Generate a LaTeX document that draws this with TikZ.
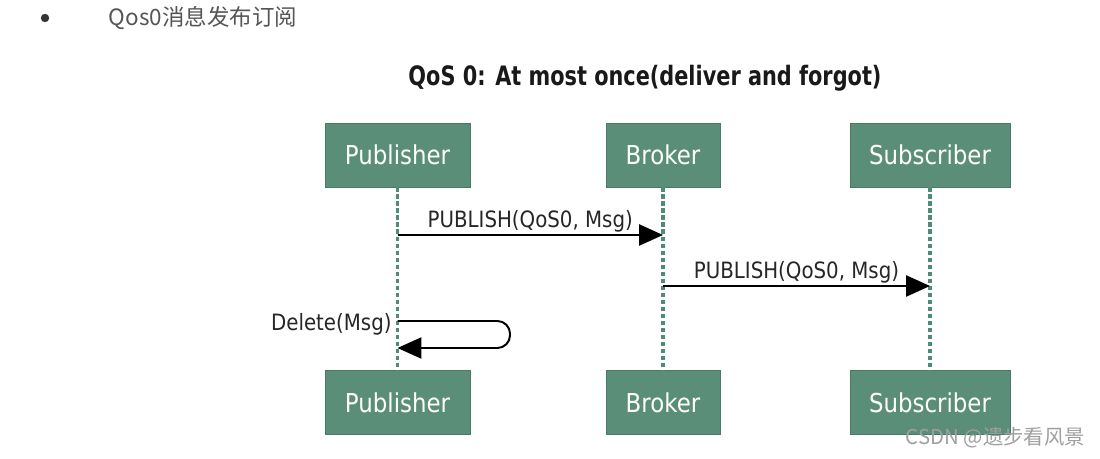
\documentclass[tikz,border=0pt]{standalone}
\usepackage{fontspec}
\setmainfont{DejaVu Sans}
\newfontfamily\diafont[FakeStretch=0.88]{DejaVu Sans}
\newfontfamily\titlefont[FakeStretch=0.78]{DejaVu Sans}
\newfontfamily\cjkfont{Noto Sans CJK SC}
\usetikzlibrary{arrows.meta}
\definecolor{boxgreen}{HTML}{5A8E78}
\definecolor{lifegreen}{HTML}{4F8B79}
\definecolor{headgray}{HTML}{555555}
\tikzset{
  actor/.style={fill=boxgreen, draw=boxgreen!85!black, text=white, minimum height=1.6cm,
    inner sep=0pt, font=\diafont\fontsize{18.5}{20}\selectfont},
  lifeline/.style={lifegreen, line width=2.4pt, dash pattern=on 3pt off 2pt},
  msg/.style={line width=1.4pt, -{Triangle[length=17pt,width=15pt]}},
  msglabel/.style={font=\diafont\fontsize{16}{18}\selectfont, text=black!85, inner sep=1pt}
}
\begin{document}
\begin{tikzpicture}[x=0.025cm,y=-0.025cm]
  \useasboundingbox (0,0) rectangle (1100,459);
  % Header line with bullet
  \fill[headgray!60!black] (45,18) circle (4.2);
  \node[anchor=west, text=headgray, font=\cjkfont\fontsize{16}{18}\selectfont] (head) at (104,18) {Qos0消息发布订阅};
  % Title
  \node[font=\titlefont\bfseries\fontsize{19}{22}\selectfont, text=black!90] (title) at (645,78) {QoS 0: At most once(deliver and forgot)};
  % Actors, top row and bottom row
  \foreach \n/\x/\w/\t in {pub/397.5/3.625cm/Publisher, brk/663/2.85cm/Broker, sub/930/4cm/Subscriber}{
    \node[actor, minimum width=\w] (\n-top) at (\x,155) {\t};
    \node[actor, minimum width=\w] (\n-bot) at (\x,402.5) {\t};
  }
  % Lifelines
  \foreach \n in {pub,brk,sub}
    \draw[lifeline] (\n-top.south) -- (\n-bot.north);
  % Message end points on the lifelines
  \coordinate (pubA) at (pub-top.south |- 0,235);
  \coordinate (brkA) at (brk-top.south |- 0,235);
  \coordinate (brkB) at (brk-top.south |- 0,286);
  \coordinate (subB) at (sub-top.south |- 0,286);
  \coordinate (delA) at (pub-top.south |- 0,321);
  \coordinate (delB) at (pub-top.south |- 0,348);
  % Messages
  \draw[msg] (pubA) -- node[msglabel, above] (m1) {PUBLISH(QoS0, Msg)} (brkA);
  \draw[msg] (brkB) -- node[msglabel, above] (m2) {PUBLISH(QoS0, Msg)} (subB);
  % Self message on the publisher
  \draw[msg, rounded corners=9pt] (delA) -- (510,321) -- (510,348) -- (delB);
  \node[msglabel, anchor=east, xshift=-3pt, yshift=-2pt] (del) at (delA) {Delete(Msg)};
  % Watermark
  \node[anchor=east, text=gray!75, font=\cjkfont\fontsize{14.5}{16}\selectfont] (mark) at (1090,438) {CSDN @遗步看风景};
\end{tikzpicture}
\end{document}
